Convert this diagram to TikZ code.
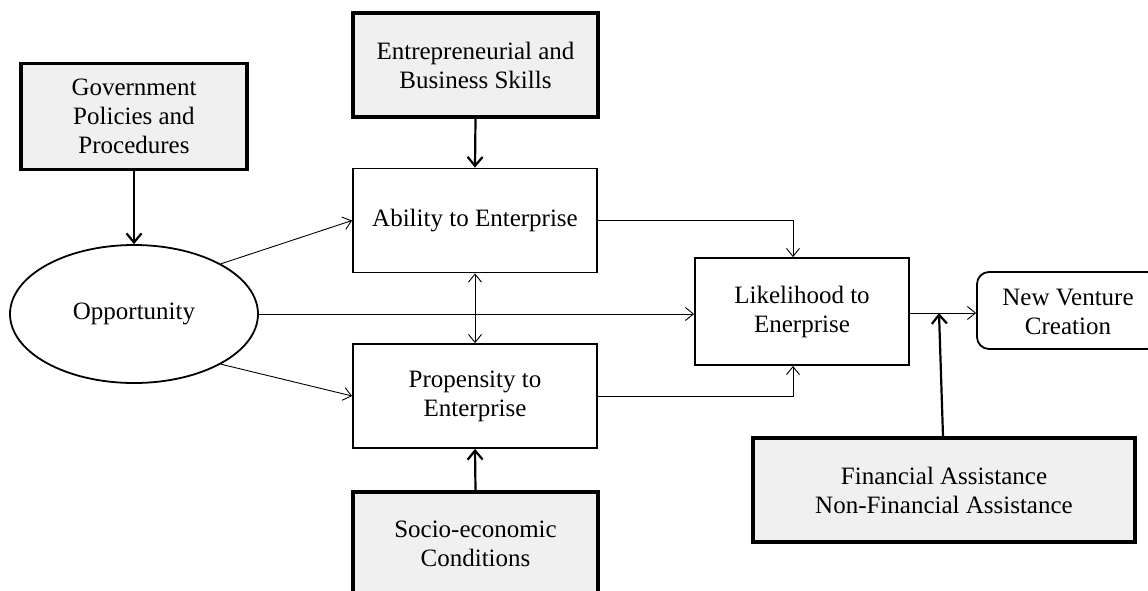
\documentclass[tikz,border=0pt]{standalone}
\usepackage{fontspec}
\setmainfont{Liberation Serif}
\usetikzlibrary{arrows.meta,shapes.geometric}
\begin{document}
\begin{tikzpicture}[x=1pt,y=-1pt,
  txt/.style={align=center,font=\fontsize{25}{29}\selectfont},
  plainbox/.style={txt,draw,line width=1.8pt,inner sep=0pt},
  greybox/.style={txt,draw,line width=3.2pt,fill=black!6,inner sep=0pt},
  oval/.style={txt,draw,ellipse,line width=1.8pt,inner sep=0pt},
  thinarrow/.style={line width=0.9pt,-{Straight Barb[length=8pt,width=13pt,line width=0.9pt]}},
  thinboth/.style={line width=0.9pt,{Straight Barb[length=8pt,width=13pt,line width=0.9pt]}-{Straight Barb[length=8pt,width=13pt,line width=0.9pt]}},
  thickarrow/.style={line width=2.2pt,-{Straight Barb[length=9pt,width=15pt,line width=2.2pt]}}
]
\useasboundingbox (0,0) rectangle (1148,590);
\clip (0,0) rectangle (1148,590);
\node[greybox,minimum width=226pt,minimum height=106pt] (gov) at (134,116.5) {Government\\Policies and\\Procedures};
\node[greybox,minimum width=245pt,minimum height=104pt] (ent) at (475.5,65) {Entrepreneurial and\\Business Skills};
\node[plainbox,minimum width=244pt,minimum height=104pt] (abil) at (475,220.5) {Ability to Enterprise};
\node[plainbox,minimum width=244pt,minimum height=104pt] (prop) at (475,396) {Propensity to\\Enterprise};
\node[greybox,minimum width=245pt,minimum height=140pt,text height=0pt] (soc) at (475.5,562) {};
\node[txt] (soctxt) at (475.5,544) {Socio-economic\\Conditions};
\node[oval,minimum width=248pt,minimum height=138pt] (opp) at (134,314) {Opportunity};
\node[plainbox,minimum width=214pt,minimum height=107pt] (lik) at (802,311.5) {Likelihood to\\Enerprise};
\node[plainbox,rounded corners=12pt,minimum width=182pt,minimum height=77pt] (nv) at (1068,310.5) {};
\node[txt] (nvtxt) at (1068,312) {New Venture\\Creation};
\node[greybox,minimum width=382pt,minimum height=104pt] (fin) at (944,490) {Financial Assistance\\Non-Financial Assistance};
\coordinate (j) at (939,313);

\draw[thickarrow] (gov.south) -- (opp.north);
\draw[thickarrow] (ent.south) -- (abil.north);
\draw[thickarrow] (soc.north) -- (prop.south);
\draw[thinboth] (abil.south) -- (prop.north);
\draw[thinarrow] (opp.30) -- (abil.west);
\draw[thinarrow] (opp.-30) -- (prop.west);
\draw[thinarrow] (opp.east) -- (opp.east -| lik.west);
\draw[thinarrow] (abil.east) -| ([xshift=-9pt]lik.north);
\draw[thinarrow] (prop.east) -| ([xshift=-9pt]lik.south);
\draw[thinarrow] (lik.east |- j) -- (j -| nv.west);
\draw[thickarrow] (fin.north -| 943,0) -- (j);
\end{tikzpicture}
\end{document}
